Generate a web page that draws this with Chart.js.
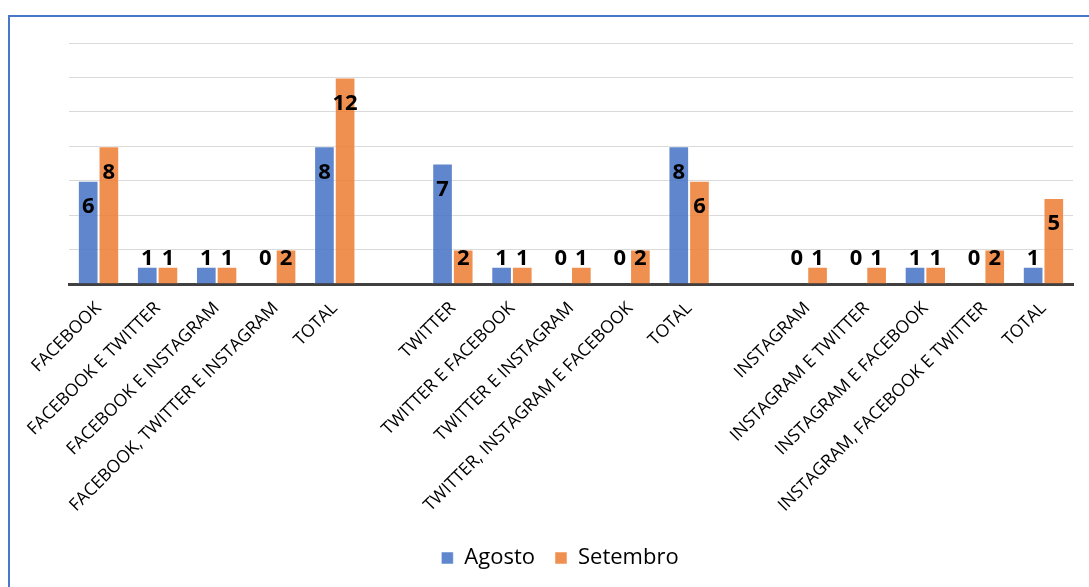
<!DOCTYPE html>
<html>
<head>
<meta charset="utf-8">
<script src="https://cdn.jsdelivr.net/npm/chart.js@4.4.0/dist/chart.umd.min.js"></script>
<style>
  html, body { margin: 0; padding: 0; background: #fff; overflow: hidden; }
  #wrap { position: relative; width: 1089px; height: 587px; }
  #frame { position: absolute; left: 8px; top: 15px; width: 1200px; height: 700px;
           border: 2px solid #4A78C8; box-sizing: border-box; pointer-events: none; }
  canvas { position: absolute; left: 0; top: 0; }
</style>
</head>
<body>
<div id="wrap">
  <canvas id="c" width="1089" height="587"></canvas>
  <div id="frame"></div>
</div>
<script>
  // categorias (vazio = espaço entre grupos)
  const categories = [
    'FACEBOOK', 'FACEBOOK E TWITTER', 'FACEBOOK E INSTAGRAM', 'FACEBOOK, TWITTER E INSTAGRAM', 'TOTAL',
    '',
    'TWITTER', 'TWITTER E FACEBOOK', 'TWITTER E INSTAGRAM', 'TWITTER, INSTAGRAM E FACEBOOK', 'TOTAL',
    '',
    'INSTAGRAM', 'INSTAGRAM E TWITTER', 'INSTAGRAM E FACEBOOK', 'INSTAGRAM, FACEBOOK E TWITTER', 'TOTAL'
  ];
  const agosto   = [6, 1, 1, 0, 8, null, 7, 1, 0, 0, 8, null, 0, 0, 1, 0, 1];
  const setembro = [8, 1, 1, 2, 12, null, 2, 1, 1, 2, 6, null, 1, 1, 1, 2, 5];
  const yMax = 14;
  const yStep = 2;

  // rótulos de dados (dentro do topo, mínimo acima da base)
  const barLabels = {
    id: 'barLabels',
    afterDatasetsDraw(chart) {
      const ctx = chart.ctx;
      ctx.save();
      ctx.font = 'bold 22px "Open Sans"';
      ctx.fillStyle = '#000';
      ctx.textAlign = 'center';
      ctx.textBaseline = 'middle';
      chart.data.datasets.forEach((ds, i) => {
        const meta = chart.getDatasetMeta(i);
        meta.data.forEach((bar, j) => {
          const v = ds.data[j];
          if (v === null || v === undefined) return;
          const y = Math.min(bar.y + 26, bar.base - 25);
          ctx.fillText(String(v), bar.x, y);
        });
      });
      ctx.restore();
    }
  };

  // legenda um pouco mais à esquerda, como no original
  const legendShift = {
    id: 'legendShift',
    afterLayout(chart) {
      if (!chart.legend) return;
      chart.legend.left -= 11;
      chart.legend.right -= 11;
    }
  };

  new Chart(document.getElementById('c'), {
    type: 'bar',
    data: {
      labels: categories,
      datasets: [
        { label: 'Agosto', data: agosto, backgroundColor: 'rgba(68,114,196,0.85)',
          borderColor: 'rgba(255,255,255,0.5)', borderWidth: 1 },
        { label: 'Setembro', data: setembro, backgroundColor: 'rgba(237,125,49,0.85)',
          borderColor: 'rgba(255,255,255,0.5)', borderWidth: 1 }
      ]
    },
    options: {
      responsive: false,
      animation: false,
      layout: { padding: { top: 43, left: 69, right: 16, bottom: 8 } },
      datasets: { bar: { categoryPercentage: 0.7, barPercentage: 1 } },
      plugins: {
        legend: {
          position: 'bottom',
          labels: {
            font: { family: 'Open Sans', size: 22 },
            color: '#000',
            boxWidth: 12, boxHeight: 12,
            padding: 20
          }
        },
        tooltip: { enabled: false }
      },
      scales: {
        x: {
          grid: { display: true, color: 'transparent', drawTicks: false },
          border: { display: true, color: '#404040', width: 3 },
          ticks: {
            autoSkip: false, maxRotation: 45, minRotation: 45,
            padding: 14, color: '#000',
            font: { family: 'Open Sans', size: 17.5 }
          },
          afterFit(scale) { scale.height = 243; }
        },
        y: {
          min: 0, max: yMax,
          ticks: { display: false, stepSize: yStep },
          grid: { color: '#d9d9d9', lineWidth: 1, drawTicks: false },
          border: { display: false },
          afterFit(scale) { scale.width = 0; }
        }
      }
    },
    plugins: [barLabels, legendShift]
  });
</script>
</body>
</html>
